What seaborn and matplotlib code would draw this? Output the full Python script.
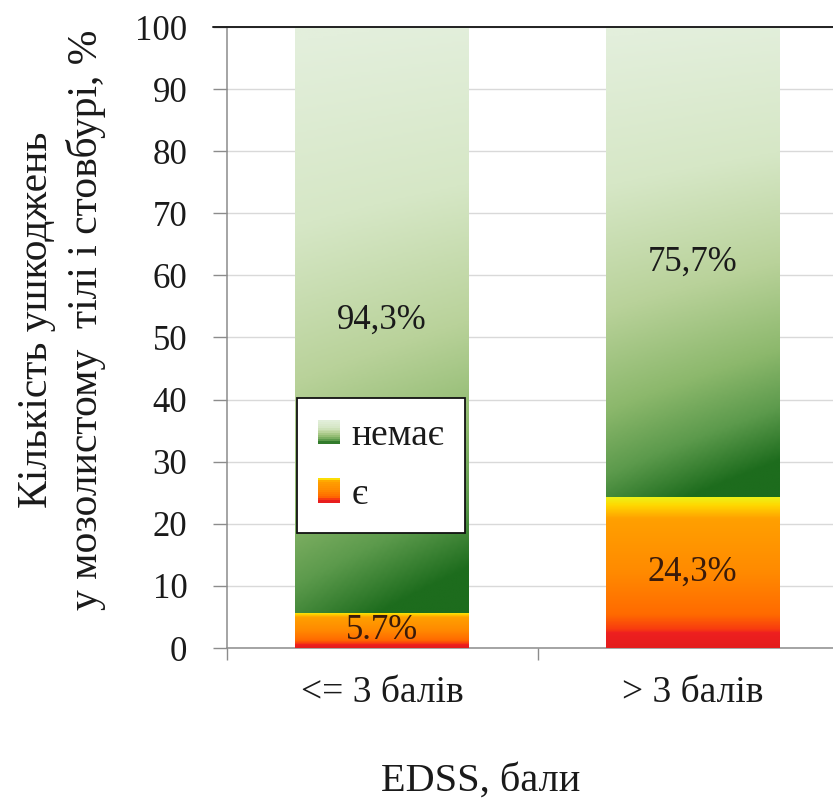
import numpy as np
import pandas as pd
import matplotlib
matplotlib.use("Agg")
import matplotlib.pyplot as plt
import seaborn as sns
from matplotlib.colors import LinearSegmentedColormap
from matplotlib.patches import Rectangle, Patch
from matplotlib.legend_handler import HandlerBase

# ---- data ----
categories = ["<= 3 балів", "> 3 балів"]
no_values = [94.3, 75.7]      # "немає"
yes_values = [5.7, 24.3]      # "є"
no_labels = ["94,3%", "75,7%"]
yes_labels = ["5.7%", "24,3%"]
series_names = ["немає", "є"]
y_ticks = [0, 10, 20, 30, 40, 50, 60, 70, 80, 90, 100]

sns.set_theme(style="white")
plt.rcParams["font.family"] = ["Liberation Serif", "DejaVu Serif"]
TXT = "#1a1a1a"

green_cmap = LinearSegmentedColormap.from_list(
    "g", [(0.0, "#e3efdc"), (0.30, "#d6e7c6"), (0.55, "#b9d29a"),
          (0.75, "#8cb86c"), (0.88, "#5c9a4c"), (1.0, "#1d6c1d")])
red_cmap = LinearSegmentedColormap.from_list(
    "r", [(0.0, "#eef018"), (0.05, "#ffd800"), (0.14, "#ffa000"),
          (0.5, "#ff8a00"), (0.78, "#ff6a00"), (0.88, "#f83a10"),
          (0.90, "#ee2020"), (1.0, "#e41c1c")])

df = pd.DataFrame({
    "cat": categories,
    "total": [n + y for n, y in zip(no_values, yes_values)],
    "yes": yes_values,
})

fig = plt.figure(figsize=(8.33, 8.05), dpi=100)
ax = fig.add_axes([227 / 833, 1 - 648 / 805, 621 / 833, 621 / 805])

W = 0.56
sns.barplot(data=df, x="cat", y="total", color="#8ab76a", width=W,
            errorbar=None, ax=ax, zorder=2)
sns.barplot(data=df, x="cat", y="yes", color="#ff8a00", width=W,
            errorbar=None, ax=ax, zorder=3)

patches = list(ax.patches)
green_patches = patches[:2]
red_patches = patches[2:4]

ny, nx = 300, 60
v = np.linspace(0, 1, ny)[:, None]
u = np.linspace(0, 1, nx)[None, :]

for gp, rp in zip(green_patches, red_patches):
    x0, w = gp.get_x(), gp.get_width()
    y0 = rp.get_y() + rp.get_height()
    y1 = gp.get_y() + gp.get_height()
    t = np.clip(v + 0.12 * (u - 0.5) * (0.3 + v), 0, 1)
    im = ax.imshow(t, cmap=green_cmap, vmin=0, vmax=1, extent=[x0, x0 + w, y0, y1],
                   origin="upper", aspect="auto", interpolation="bilinear", zorder=2)
    im.set_clip_path(gp)
    gp.set_facecolor("none")
    gp.set_edgecolor("none")

for rp in red_patches:
    x0, w = rp.get_x(), rp.get_width()
    y0, y1 = rp.get_y(), rp.get_y() + rp.get_height()
    t = np.clip(v + 0.0 * u, 0, 1)
    im = ax.imshow(t, cmap=red_cmap, vmin=0, vmax=1, extent=[x0, x0 + w, y0, y1],
                   origin="upper", aspect="auto", interpolation="bilinear", zorder=3)
    im.set_clip_path(rp)
    rp.set_facecolor("none")
    rp.set_edgecolor("none")

# value labels
for i, (gp, rp) in enumerate(zip(green_patches, red_patches)):
    xc = gp.get_x() + gp.get_width() / 2
    ytop = rp.get_height()
    ax.text(xc, (ytop + gp.get_height()) / 2, no_labels[i], ha="center", va="center",
            fontsize=25, color=TXT, zorder=6)
    ax.text(xc, ytop / 2, yes_labels[i], ha="center", va="center",
            fontsize=25, color="#3a1a0a", zorder=6)

ax.set_xlim(-0.5, 1.5)
ax.set_ylim(0, 100)
ax.set_yticks(y_ticks)
ax.set_yticklabels([str(t) for t in y_ticks], fontsize=25, color=TXT)
ax.yaxis.grid(True, color="#d9d9d9", linewidth=1.0)
ax.set_axisbelow(True)

ax.set_xticks([-0.5, 0.5, 1.5])
ax.set_xticklabels([])
ax.set_xticks([0, 1], minor=True)
ax.set_xticklabels(categories, minor=True, fontsize=27, color=TXT)
ax.tick_params(axis="x", which="major", length=8.5, width=1.0, color="#8c8c8c",
               direction="out", bottom=True)
ax.tick_params(axis="x", which="minor", length=0, pad=20)
ax.tick_params(axis="y", length=10, width=1.0, color="#8c8c8c", direction="out",
               pad=18.5, left=True)

for s in ["top", "right"]:
    ax.spines[s].set_visible(False)
for s in ["left", "bottom"]:
    ax.spines[s].set_color("#8c8c8c")
    ax.spines[s].set_linewidth(1.1)
ax.axhline(100, xmin=-14 / 621, xmax=1, color="#202020", linewidth=1.4,
           clip_on=False, zorder=4)

ax.set_xlabel("EDSS, бали", fontsize=29, color=TXT)
ax.xaxis.label.set_va("center")
ax.xaxis.set_label_coords((481 - 227) / 621, (648 - 781) / 621)
ax.set_ylabel("")

fig.text(37 / 833, 1 - 320 / 805, "Кількість ушкоджень", rotation=90,
         ha="center", va="center", fontsize=30, color=TXT)
fig.text(86 / 833, 1 - 320 / 805, "у мозолистому  тілі і стовбурі, %", rotation=90,
         ha="center", va="center", fontsize=30, color=TXT)


class GradHandler(HandlerBase):
    def __init__(self, cmap):
        super().__init__()
        self.cmap = cmap

    def create_artists(self, legend, orig_handle, xdescent, ydescent, width,
                       height, fontsize, trans):
        n = 12
        arts = []
        for i in range(n):
            r = Rectangle((-xdescent, -ydescent + height * (1 - (i + 1) / n)),
                          width, height / n + 0.3,
                          facecolor=self.cmap((i + 0.5) / n), edgecolor="none",
                          transform=trans)
            arts.append(r)
        return arts


h_no = Patch(facecolor="#8ab76a")
h_yes = Patch(facecolor="#ff8a00")
leg = ax.legend([h_no, h_yes], series_names, loc="upper left",
                bbox_to_anchor=((297 - 227) / 621, (648 - 398) / 621),
                borderaxespad=0, fontsize=27, frameon=True, fancybox=False,
                framealpha=1, edgecolor="#111111", borderpad=0.55,
                labelspacing=0.65, handlelength=0.6, handleheight=0.6,
                handletextpad=0.3,
                handler_map={h_no: GradHandler(green_cmap), h_yes: GradHandler(red_cmap)})
leg.get_frame().set_linewidth(1.3)
leg.set_zorder(7)
for t in leg.get_texts():
    t.set_color(TXT)

fig.savefig("out.png", dpi=100, facecolor="white")
